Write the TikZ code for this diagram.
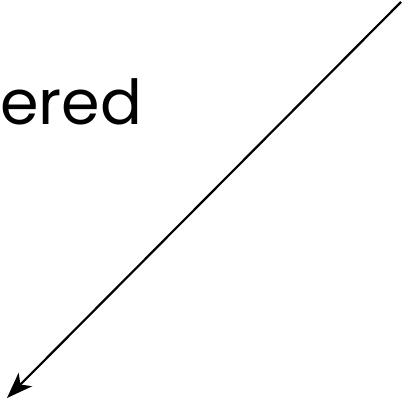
\documentclass[tikz,border=0pt]{standalone}
\usepackage{fontspec}
\setmainfont{Poppins}
\usetikzlibrary{arrows.meta}

\begin{document}
\begin{tikzpicture}[x=1pt,y=-1pt, every node/.style={font=\fontsize{62}{64}\selectfont, inner sep=0pt}]
	\useasboundingbox (0,0) rectangle (403,403);
	\node[anchor=base west] (word) at (0,125) {ered};
	\coordinate (top) at (401,2);
	\coordinate (tip) at (7,398);
	\draw[line width=2.2pt, -{Stealth[length=26pt,width=19pt,inset=7pt]}] (top) -- (tip);
\end{tikzpicture}
\end{document}
